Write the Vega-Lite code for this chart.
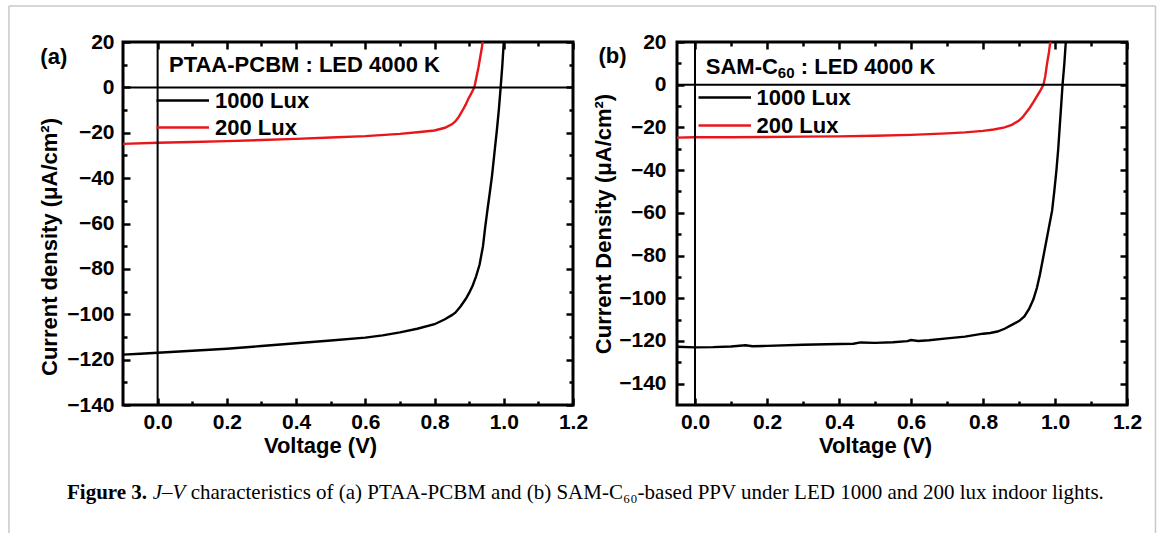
{
  "$schema": "https://vega.github.io/schema/vega-lite/v6.json",
  "background": "white",
  "padding": {"left": 6, "top": 3, "right": 16, "bottom": 0},
  "autosize": {"type": "pad"},
  "bounds": "flush",
  "spacing": 104,
  "datasets": {
    "a": [
      {"series": "1000 Lux", "V": -0.1, "J": -117.8}, {"series": "1000 Lux", "V": -0.05, "J": -117.4}, {"series": "1000 Lux", "V": 0, "J": -117.0},
      {"series": "1000 Lux", "V": 0.1, "J": -116.1}, {"series": "1000 Lux", "V": 0.2, "J": -115.2}, {"series": "1000 Lux", "V": 0.3, "J": -114.0},
      {"series": "1000 Lux", "V": 0.4, "J": -112.8}, {"series": "1000 Lux", "V": 0.5, "J": -111.6}, {"series": "1000 Lux", "V": 0.6, "J": -110.3},
      {"series": "1000 Lux", "V": 0.65, "J": -109.3}, {"series": "1000 Lux", "V": 0.7, "J": -108.0}, {"series": "1000 Lux", "V": 0.75, "J": -106.4},
      {"series": "1000 Lux", "V": 0.8, "J": -104.4}, {"series": "1000 Lux", "V": 0.83, "J": -102.2}, {"series": "1000 Lux", "V": 0.85, "J": -100.4},
      {"series": "1000 Lux", "V": 0.86, "J": -99.3}, {"series": "1000 Lux", "V": 0.875, "J": -96.6}, {"series": "1000 Lux", "V": 0.89, "J": -93.3},
      {"series": "1000 Lux", "V": 0.9, "J": -90.6}, {"series": "1000 Lux", "V": 0.91, "J": -87.4}, {"series": "1000 Lux", "V": 0.92, "J": -83.3},
      {"series": "1000 Lux", "V": 0.93, "J": -78.2}, {"series": "1000 Lux", "V": 0.94, "J": -70.0}, {"series": "1000 Lux", "V": 0.946, "J": -62.0},
      {"series": "1000 Lux", "V": 0.952, "J": -55.0}, {"series": "1000 Lux", "V": 0.96, "J": -46.0}, {"series": "1000 Lux", "V": 0.966, "J": -39.0},
      {"series": "1000 Lux", "V": 0.973, "J": -29.0}, {"series": "1000 Lux", "V": 0.98, "J": -19.0}, {"series": "1000 Lux", "V": 0.986, "J": -9.5},
      {"series": "1000 Lux", "V": 0.991, "J": 0.0}, {"series": "1000 Lux", "V": 0.996, "J": 10.0}, {"series": "1000 Lux", "V": 1.0, "J": 20.0},
      {"series": "1000 Lux", "V": 1.004, "J": 28.0},
      {"series": "200 Lux", "V": -0.1, "J": -24.9}, {"series": "200 Lux", "V": 0, "J": -24.4}, {"series": "200 Lux", "V": 0.1, "J": -24.1},
      {"series": "200 Lux", "V": 0.2, "J": -23.7}, {"series": "200 Lux", "V": 0.3, "J": -23.2}, {"series": "200 Lux", "V": 0.4, "J": -22.7},
      {"series": "200 Lux", "V": 0.5, "J": -22.1}, {"series": "200 Lux", "V": 0.6, "J": -21.5}, {"series": "200 Lux", "V": 0.7, "J": -20.5},
      {"series": "200 Lux", "V": 0.75, "J": -19.8}, {"series": "200 Lux", "V": 0.8, "J": -19.0}, {"series": "200 Lux", "V": 0.83, "J": -17.8},
      {"series": "200 Lux", "V": 0.85, "J": -16.3}, {"series": "200 Lux", "V": 0.86, "J": -15.0}, {"series": "200 Lux", "V": 0.87, "J": -13.0},
      {"series": "200 Lux", "V": 0.88, "J": -10.4}, {"series": "200 Lux", "V": 0.89, "J": -7.6}, {"series": "200 Lux", "V": 0.897, "J": -5.2},
      {"series": "200 Lux", "V": 0.905, "J": -3.0}, {"series": "200 Lux", "V": 0.915, "J": 0.0}, {"series": "200 Lux", "V": 0.927, "J": 8.9},
      {"series": "200 Lux", "V": 0.937, "J": 17.8}, {"series": "200 Lux", "V": 0.942, "J": 24.0}
    ],
    "b": [
      {"series": "1000 Lux", "V": -0.05, "J": -122.7}, {"series": "1000 Lux", "V": 0, "J": -123.0}, {"series": "1000 Lux", "V": 0.05, "J": -122.9},
      {"series": "1000 Lux", "V": 0.1, "J": -122.6}, {"series": "1000 Lux", "V": 0.14, "J": -122.0}, {"series": "1000 Lux", "V": 0.16, "J": -122.5},
      {"series": "1000 Lux", "V": 0.2, "J": -122.3}, {"series": "1000 Lux", "V": 0.3, "J": -121.8}, {"series": "1000 Lux", "V": 0.4, "J": -121.4},
      {"series": "1000 Lux", "V": 0.44, "J": -121.3}, {"series": "1000 Lux", "V": 0.46, "J": -120.7}, {"series": "1000 Lux", "V": 0.5, "J": -120.9},
      {"series": "1000 Lux", "V": 0.55, "J": -120.6}, {"series": "1000 Lux", "V": 0.59, "J": -120.1}, {"series": "1000 Lux", "V": 0.6, "J": -119.6},
      {"series": "1000 Lux", "V": 0.62, "J": -120.0}, {"series": "1000 Lux", "V": 0.65, "J": -119.7}, {"series": "1000 Lux", "V": 0.7, "J": -118.8},
      {"series": "1000 Lux", "V": 0.75, "J": -118.0}, {"series": "1000 Lux", "V": 0.8, "J": -116.6}, {"series": "1000 Lux", "V": 0.82, "J": -116.3},
      {"series": "1000 Lux", "V": 0.84, "J": -115.6}, {"series": "1000 Lux", "V": 0.86, "J": -114.3}, {"series": "1000 Lux", "V": 0.88, "J": -112.5},
      {"series": "1000 Lux", "V": 0.9, "J": -110.7}, {"series": "1000 Lux", "V": 0.915, "J": -108.5}, {"series": "1000 Lux", "V": 0.928, "J": -105.0},
      {"series": "1000 Lux", "V": 0.94, "J": -100.5}, {"series": "1000 Lux", "V": 0.95, "J": -95.0}, {"series": "1000 Lux", "V": 0.958, "J": -89.0},
      {"series": "1000 Lux", "V": 0.966, "J": -82.0}, {"series": "1000 Lux", "V": 0.975, "J": -74.0}, {"series": "1000 Lux", "V": 0.984, "J": -66.0},
      {"series": "1000 Lux", "V": 0.992, "J": -59.0}, {"series": "1000 Lux", "V": 0.998, "J": -50.0}, {"series": "1000 Lux", "V": 1.004, "J": -40.0},
      {"series": "1000 Lux", "V": 1.009, "J": -30.0}, {"series": "1000 Lux", "V": 1.013, "J": -20.0}, {"series": "1000 Lux", "V": 1.017, "J": -10.0},
      {"series": "1000 Lux", "V": 1.021, "J": 0.0}, {"series": "1000 Lux", "V": 1.026, "J": 10.0}, {"series": "1000 Lux", "V": 1.03, "J": 20.0},
      {"series": "1000 Lux", "V": 1.032, "J": 25.0},
      {"series": "200 Lux", "V": -0.05, "J": -24.8}, {"series": "200 Lux", "V": 0, "J": -24.6}, {"series": "200 Lux", "V": 0.1, "J": -24.6},
      {"series": "200 Lux", "V": 0.2, "J": -24.5}, {"series": "200 Lux", "V": 0.3, "J": -24.3}, {"series": "200 Lux", "V": 0.4, "J": -24.2},
      {"series": "200 Lux", "V": 0.5, "J": -23.9}, {"series": "200 Lux", "V": 0.6, "J": -23.5}, {"series": "200 Lux", "V": 0.7, "J": -22.8},
      {"series": "200 Lux", "V": 0.75, "J": -22.3}, {"series": "200 Lux", "V": 0.8, "J": -21.6}, {"series": "200 Lux", "V": 0.83, "J": -21.0},
      {"series": "200 Lux", "V": 0.86, "J": -20.0}, {"series": "200 Lux", "V": 0.88, "J": -18.8}, {"series": "200 Lux", "V": 0.9, "J": -16.8},
      {"series": "200 Lux", "V": 0.91, "J": -15.2}, {"series": "200 Lux", "V": 0.92, "J": -13.0}, {"series": "200 Lux", "V": 0.93, "J": -10.8},
      {"series": "200 Lux", "V": 0.94, "J": -8.2}, {"series": "200 Lux", "V": 0.95, "J": -5.3}, {"series": "200 Lux", "V": 0.96, "J": -2.5},
      {"series": "200 Lux", "V": 0.968, "J": 0.0}, {"series": "200 Lux", "V": 0.973, "J": 4.0}, {"series": "200 Lux", "V": 0.978, "J": 10.0},
      {"series": "200 Lux", "V": 0.983, "J": 15.0}, {"series": "200 Lux", "V": 0.987, "J": 20.0}, {"series": "200 Lux", "V": 0.99, "J": 24.0}
    ]
  },
  "resolve": {"scale": {"color": "independent"}},
  "hconcat": [
    {
      "width": 450,
      "height": 363,
      "data": {"name": "a"},
      "resolve": {"axis": {"x": "independent", "y": "independent"}},
      "layer": [
        {
          "mark": {"type": "line", "strokeWidth": 2.4, "clip": true},
          "encoding": {
            "x": {"field": "V", "type": "quantitative", "scale": {"domain": [-0.1, 1.2], "nice": false, "zero": false},
                  "axis": {"orient": "bottom", "values": [0, 0.2, 0.4, 0.6, 0.8, 1.0, 1.2], "format": ".1f", "tickSize": -7, "labelPadding": 13, "title": "Voltage (V)", "titleX": 197, "titlePadding": 3}},
            "y": {"field": "J", "type": "quantitative", "scale": {"domain": [-140, 20], "nice": false, "zero": false},
                  "axis": {"orient": "left", "values": [20, 0, -20, -40, -60, -80, -100, -120, -140], "tickSize": -7, "labelPadding": 16, "title": "Current density (μA/cm²)", "titleY": 204.5, "titlePadding": 5}},
            "color": {"field": "series", "type": "nominal", "scale": {"domain": ["1000 Lux", "200 Lux"], "range": ["#000000", "#e8161b"]},
                      "legend": {"title": null, "orient": "none", "legendX": 72.5, "legendY": 47.5, "labelOffset": -2.5, "rowPadding": 5}}
          }
        },
        {
          "data": {"values": [{}]},
          "mark": {"type": "rule", "color": "black", "strokeWidth": 2},
          "encoding": {
            "x": {"datum": 0, "type": "quantitative", "axis": {"orient": "top", "values": [0, 0.2, 0.4, 0.6, 0.8, 1.0, 1.2], "tickSize": -7, "labels": false, "title": null}}
          }
        },
        {
          "data": {"values": [{}]},
          "mark": {"type": "rule", "color": "black", "strokeWidth": 2},
          "encoding": {
            "y": {"datum": 0, "type": "quantitative", "axis": {"orient": "right", "values": [20, 0, -20, -40, -60, -80, -100, -120, -140], "tickSize": -7, "labels": false, "title": null}}
          }
        },
        {
          "data": {"values": [{}]},
          "mark": {"type": "text", "text": "PTAA-PCBM : LED 4000 K", "align": "left", "baseline": "middle", "font": "Liberation Sans", "fontWeight": "bold", "fontSize": 22, "color": "black"},
          "encoding": {
            "x": {"datum": 0.0329, "type": "quantitative", "axis": {"orient": "bottom", "values": [0.1, 0.3, 0.5, 0.7, 0.9, 1.1], "tickSize": -4, "labels": false, "title": null}},
            "y": {"datum": 9.86, "type": "quantitative", "axis": {"orient": "left", "values": [10, -10, -30, -50, -70, -90, -110, -130], "tickSize": -4, "labels": false, "title": null}}
          }
        },
        {
          "data": {"values": [{}]},
          "mark": {"type": "text", "text": "(a)", "align": "center", "baseline": "middle", "font": "Liberation Sans", "fontWeight": "bold", "fontSize": 22, "color": "black"},
          "encoding": {
            "x": {"datum": -0.3, "type": "quantitative", "axis": {"orient": "top", "values": [0.1, 0.3, 0.5, 0.7, 0.9, 1.1], "tickSize": -4, "labels": false, "title": null}},
            "y": {"datum": 13.6, "type": "quantitative", "axis": {"orient": "right", "values": [10, -10, -30, -50, -70, -90, -110, -130], "tickSize": -4, "labels": false, "title": null}}
          }
        },
        {
          "data": {"values": [{}]},
          "mark": {"type": "text", "text": "Figure 3.", "align": "left", "baseline": "alphabetic", "font": "Liberation Serif", "fontWeight": "bold", "fontSize": 21, "color": "black"},
          "encoding": {
            "x": {"datum": -0.2618, "type": "quantitative", "axis": null},
            "y": {"datum": -181.43, "type": "quantitative", "axis": null}
          }
        },
        {
          "data": {"values": [{}]},
          "mark": {"type": "text", "text": "J–V", "align": "left", "baseline": "alphabetic", "font": "Liberation Serif", "fontStyle": "italic", "fontSize": 21, "color": "black"},
          "encoding": {
            "x": {"datum": -0.0139, "type": "quantitative", "axis": null},
            "y": {"datum": -181.43, "type": "quantitative", "axis": null}
          }
        },
        {
          "data": {"values": [{}]},
          "mark": {"type": "text", "text": "characteristics of (a) PTAA-PCBM and (b) SAM-C₆₀-based PPV under LED 1000 and 200 lux indoor lights.", "align": "left", "baseline": "alphabetic", "font": "Liberation Serif", "fontSize": 21, "color": "black"},
          "encoding": {
            "x": {"datum": 0.0956, "type": "quantitative", "axis": null},
            "y": {"datum": -181.43, "type": "quantitative", "axis": null}
          }
        },
        {
          "data": {"values": [{}]},
          "mark": {"type": "rule", "color": "#c8c8c8", "strokeWidth": 1.5},
          "encoding": {
            "x": {"datum": -0.4295, "type": "quantitative", "axis": null},
            "x2": {"datum": 2.8827},
            "y": {"datum": 35.868, "type": "quantitative", "axis": null}
          }
        },
        {
          "data": {"values": [{}]},
          "mark": {"type": "rule", "color": "#c8c8c8", "strokeWidth": 1.5},
          "encoding": {
            "x": {"datum": -0.4295, "type": "quantitative", "axis": null},
            "y": {"datum": 35.868, "type": "quantitative", "axis": null},
            "y2": {"datum": -196.86}
          }
        },
        {
          "data": {"values": [{}]},
          "mark": {"type": "rule", "color": "#c8c8c8", "strokeWidth": 1.5},
          "encoding": {
            "x": {"datum": 2.8827, "type": "quantitative", "axis": null},
            "y": {"datum": 35.868, "type": "quantitative", "axis": null},
            "y2": {"datum": -196.86}
          }
        }
      ]
    },
    {
      "width": 450,
      "height": 363,
      "data": {"name": "b"},
      "resolve": {"axis": {"x": "independent", "y": "independent"}},
      "layer": [
        {
          "mark": {"type": "line", "strokeWidth": 2.4, "clip": true},
          "encoding": {
            "x": {"field": "V", "type": "quantitative", "scale": {"domain": [-0.05, 1.2], "nice": false, "zero": false},
                  "axis": {"orient": "bottom", "values": [0, 0.2, 0.4, 0.6, 0.8, 1.0, 1.2], "format": ".1f", "tickSize": -7, "labelPadding": 13, "title": "Voltage (V)", "titleX": 198, "titlePadding": 3}},
            "y": {"field": "J", "type": "quantitative", "scale": {"domain": [-150, 20], "nice": false, "zero": false},
                  "axis": {"orient": "left", "values": [20, 0, -20, -40, -60, -80, -100, -120, -140], "tickSize": -7, "labelPadding": 18, "title": "Current Density (μA/cm²)", "titlePadding": 3}},
            "color": {"field": "series", "type": "nominal", "scale": {"domain": ["1000 Lux", "200 Lux"], "range": ["#000000", "#e8161b"]},
                      "legend": {"title": null, "orient": "none", "legendX": 60.5, "legendY": 44.5, "labelOffset": -3, "rowPadding": 6}}
          }
        },
        {
          "data": {"values": [{}]},
          "mark": {"type": "rule", "color": "black", "strokeWidth": 2},
          "encoding": {
            "x": {"datum": 0, "type": "quantitative", "axis": {"orient": "top", "values": [0, 0.2, 0.4, 0.6, 0.8, 1.0, 1.2], "tickSize": -7, "labels": false, "title": null}}
          }
        },
        {
          "data": {"values": [{}]},
          "mark": {"type": "rule", "color": "black", "strokeWidth": 2},
          "encoding": {
            "y": {"datum": 0, "type": "quantitative", "axis": {"orient": "right", "values": [20, 0, -20, -40, -60, -80, -100, -120, -140], "tickSize": -7, "labels": false, "title": null}}
          }
        },
        {
          "data": {"values": [{}]},
          "mark": {"type": "text", "text": "SAM-C", "align": "left", "baseline": "middle", "font": "Liberation Sans", "fontWeight": "bold", "fontSize": 22, "color": "black"},
          "encoding": {
            "x": {"datum": 0.03, "type": "quantitative", "axis": {"orient": "bottom", "values": [0.1, 0.3, 0.5, 0.7, 0.9, 1.1], "tickSize": -4, "labels": false, "title": null}},
            "y": {"datum": 8.29, "type": "quantitative", "axis": {"orient": "left", "values": [10, -10, -30, -50, -70, -90, -110, -130], "tickSize": -4, "labels": false, "title": null}}
          }
        },
        {
          "data": {"values": [{}]},
          "mark": {"type": "text", "text": "60", "align": "left", "baseline": "middle", "dx": 72, "dy": 6, "font": "Liberation Sans", "fontWeight": "bold", "fontSize": 15, "color": "black"},
          "encoding": {
            "x": {"datum": 0.03, "type": "quantitative", "axis": null},
            "y": {"datum": 8.29, "type": "quantitative", "axis": null}
          }
        },
        {
          "data": {"values": [{}]},
          "mark": {"type": "text", "text": ": LED 4000 K", "align": "left", "baseline": "middle", "dx": 95, "font": "Liberation Sans", "fontWeight": "bold", "fontSize": 22, "color": "black"},
          "encoding": {
            "x": {"datum": 0.03, "type": "quantitative", "axis": null},
            "y": {"datum": 8.29, "type": "quantitative", "axis": null}
          }
        },
        {
          "data": {"values": [{}]},
          "mark": {"type": "text", "text": "(b)", "align": "center", "baseline": "middle", "font": "Liberation Sans", "fontWeight": "bold", "fontSize": 22, "color": "black"},
          "encoding": {
            "x": {"datum": -0.229, "type": "quantitative", "axis": {"orient": "top", "values": [0.1, 0.3, 0.5, 0.7, 0.9, 1.1], "tickSize": -4, "labels": false, "title": null}},
            "y": {"datum": 13.3, "type": "quantitative", "axis": {"orient": "right", "values": [10, -10, -30, -50, -70, -90, -110, -130], "tickSize": -4, "labels": false, "title": null}}
          }
        }
      ]
    }
  ],
  "config": {
    "view": {"stroke": "black", "strokeWidth": 3},
    "axis": {"grid": false, "domain": false, "ticks": true, "tickColor": "black", "tickWidth": 2.5, "labelFont": "Liberation Sans", "labelFontWeight": "bold", "labelFontSize": 21, "labelColor": "black", "labelFlush": false, "labelOverlap": false, "labelBound": false, "titleFont": "Liberation Sans", "titleFontWeight": "bold", "titleFontSize": 22, "titleColor": "black"},
    "legend": {"padding": 0, "symbolType": "M-20,0H1", "symbolSize": 25, "symbolStrokeWidth": 2.5, "labelFont": "Liberation Sans", "labelFontWeight": "bold", "labelFontSize": 22, "labelColor": "black", "labelOffset": 4, "rowPadding": 6}
  }
}
